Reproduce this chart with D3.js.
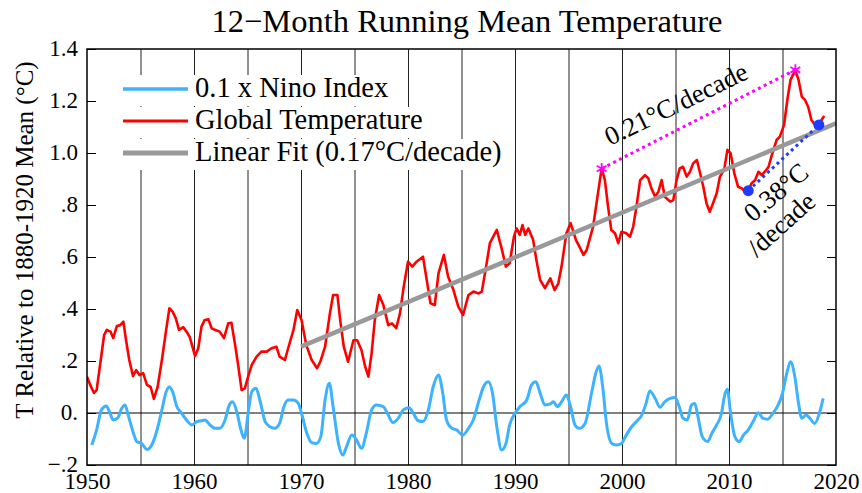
<!DOCTYPE html>
<html><head><meta charset="utf-8">
<script src="https://cdn.jsdelivr.net/npm/d3@7"></script>
<style>
body{margin:0;background:#fff}
svg{display:block}
</style>
</head><body>
<svg id="c" width="862" height="493"></svg>
<script>
// ---------------- data ----------------
const titleText = "12\u2212Month Running Mean Temperature";
const yLabelText = "T Relative to 1880-1920 Mean (\u00B0C)";
const xTickValues = [1950,1960,1970,1980,1990,2000,2010,2020];
const xTickLabels = ["1950","1960","1970","1980","1990","2000","2010","2020"];
const gridYears = [1955,1960,1965,1970,1975,1980,1985,1990,1995,2000,2005,2010,2015];
const yTickValues = [1.4,1.2,1.0,0.8,0.6,0.4,0.2,0,-0.2];
const yTickLabels = ["1.4","1.2","1.0",".8",".6",".4",".2","0.","\u2212.2"];

const tempYears = [1950.0,1950.3,1950.65,1950.9,1951.2,1951.6,1951.85,1952.2,1952.45,1952.8,1953.1,1953.4,1953.65,1953.95,1954.3,1954.6,1954.9,1955.25,1955.6,1955.95,1956.25,1956.6,1957.0,1957.4,1957.7,1958.0,1958.3,1958.6,1959.0,1959.3,1959.6,1960.1,1960.4,1960.7,1961.0,1961.35,1961.65,1961.95,1962.4,1962.8,1963.2,1963.5,1963.85,1964.15,1964.45,1964.75,1965.1,1965.4,1965.85,1966.3,1966.8,1967.25,1967.7,1968.0,1968.5,1968.8,1969.3,1969.65,1970.05,1970.5,1971.0,1971.5,1971.8,1972.25,1972.7,1973.0,1973.4,1973.7,1974.0,1974.4,1974.9,1975.25,1975.65,1976.0,1976.3,1976.6,1976.9,1977.3,1977.7,1978.15,1978.5,1978.9,1979.25,1979.6,1980.0,1980.4,1980.8,1981.4,1981.75,1982.1,1982.5,1982.85,1983.35,1983.75,1984.25,1984.7,1985.15,1985.65,1986.1,1986.6,1986.9,1987.3,1987.65,1988.3,1988.75,1989.15,1989.5,1989.9,1990.15,1990.45,1990.7,1990.95,1991.25,1991.7,1992.0,1992.35,1992.8,1993.3,1993.7,1994.05,1994.35,1994.8,1995.2,1995.7,1996.1,1996.4,1996.7,1997.3,1997.8,1998.1,1998.4,1998.7,1999.0,1999.35,1999.65,1999.95,2000.4,2000.75,2001.05,2001.35,2001.7,2002.15,2002.45,2002.75,2003.1,2003.4,2003.7,2004.0,2004.5,2004.8,2005.1,2005.4,2005.7,2006.05,2006.35,2006.65,2007.0,2007.3,2007.6,2007.9,2008.2,2008.5,2008.85,2009.15,2009.55,2009.85,2010.15,2010.5,2010.85,2011.2,2011.5,2011.8,2012.1,2012.45,2012.75,2013.05,2013.35,2013.7,2014.0,2014.45,2014.75,2015.15,2015.45,2015.75,2016.2,2016.5,2016.8,2017.1,2017.4,2017.7,2018.05,2018.35,2018.65,2018.9];
const tempValues = [0.14,0.108,0.077,0.088,0.178,0.30,0.32,0.313,0.288,0.335,0.338,0.351,0.28,0.204,0.142,0.165,0.146,0.153,0.108,0.10,0.054,0.10,0.204,0.32,0.403,0.39,0.364,0.32,0.33,0.313,0.293,0.219,0.249,0.332,0.358,0.36,0.326,0.32,0.313,0.288,0.345,0.347,0.26,0.178,0.088,0.095,0.146,0.185,0.217,0.236,0.236,0.249,0.255,0.217,0.204,0.249,0.32,0.396,0.358,0.26,0.204,0.172,0.197,0.255,0.383,0.454,0.454,0.345,0.255,0.197,0.28,0.28,0.242,0.178,0.14,0.23,0.358,0.454,0.415,0.338,0.345,0.326,0.383,0.486,0.582,0.563,0.582,0.601,0.512,0.422,0.415,0.537,0.608,0.524,0.473,0.409,0.377,0.454,0.467,0.46,0.467,0.563,0.653,0.704,0.633,0.563,0.576,0.678,0.71,0.685,0.723,0.685,0.71,0.665,0.588,0.512,0.48,0.518,0.473,0.499,0.563,0.691,0.73,0.665,0.633,0.608,0.627,0.717,0.858,0.941,0.896,0.793,0.704,0.691,0.653,0.697,0.691,0.678,0.717,0.793,0.896,0.915,0.903,0.864,0.832,0.851,0.896,0.832,0.813,0.819,0.896,0.941,0.947,0.909,0.928,0.96,0.973,0.922,0.87,0.806,0.774,0.806,0.845,0.909,0.935,1.012,0.999,0.922,0.87,0.864,0.851,0.855,0.883,0.896,0.928,0.915,0.928,0.947,0.992,1.05,1.063,1.108,1.204,1.281,1.319,1.281,1.217,1.204,1.178,1.127,1.108,1.108,1.127,1.142];

const ninoYears = [1950.45,1950.9,1951.35,1951.8,1952.15,1952.45,1952.85,1953.25,1953.55,1953.85,1954.3,1954.65,1955.1,1955.6,1956.05,1956.5,1957.0,1957.4,1957.7,1958.0,1958.4,1958.85,1959.3,1959.8,1960.25,1960.7,1961.0,1961.5,1961.95,1962.4,1962.9,1963.3,1963.6,1964.0,1964.35,1964.7,1965.1,1965.4,1965.8,1966.15,1966.65,1967.1,1967.55,1968.0,1968.4,1968.8,1969.3,1969.75,1970.05,1970.5,1971.0,1971.45,1971.85,1972.25,1972.65,1973.0,1973.5,1973.9,1974.25,1974.75,1975.2,1975.65,1976.1,1976.6,1977.05,1977.7,1978.15,1978.6,1979.1,1979.55,1980.1,1980.5,1980.95,1981.4,1981.9,1982.35,1982.85,1983.25,1983.6,1984.1,1984.55,1985.1,1985.65,1986.1,1986.65,1987.05,1987.5,1987.9,1988.3,1988.75,1989.15,1989.5,1990.0,1990.45,1991.1,1991.55,1991.95,1992.35,1992.8,1993.3,1993.6,1993.95,1994.35,1994.8,1995.2,1995.6,1996.0,1996.55,1997.15,1997.55,1997.85,1998.2,1998.55,1999.05,1999.5,1999.95,2000.4,2000.9,2001.35,2001.85,2002.25,2002.6,2003.1,2003.55,2004.0,2004.5,2004.95,2005.35,2005.7,2006.1,2006.5,2006.8,2007.1,2007.5,2008.0,2008.4,2008.85,2009.3,2009.6,2009.85,2010.15,2010.55,2010.95,2011.35,2011.8,2012.25,2012.75,2013.15,2013.6,2014.1,2014.6,2015.0,2015.4,2015.75,2016.15,2016.5,2016.8,2017.2,2017.55,2018.0,2018.45,2018.8];
const ninoValues = [-0.123,-0.065,0.012,0.027,-0.001,-0.027,-0.02,0.018,0.031,-0.008,-0.072,-0.11,-0.117,-0.14,-0.123,-0.072,0.012,0.082,0.10,0.082,0.024,-0.001,-0.027,-0.046,-0.033,-0.03,-0.027,-0.046,-0.059,-0.059,-0.027,0.031,0.043,0.005,-0.059,-0.097,0.012,0.082,0.095,0.05,-0.033,-0.053,-0.059,-0.04,0.024,0.05,0.05,0.037,-0.001,-0.072,-0.114,-0.117,-0.091,0.05,0.114,0.024,-0.117,-0.162,-0.13,-0.085,-0.104,-0.136,-0.078,0.012,0.031,0.024,-0.008,-0.037,-0.02,0.012,0.02,-0.001,-0.03,-0.033,0.012,0.10,0.146,0.076,-0.027,-0.059,-0.065,-0.085,-0.059,-0.027,0.05,0.10,0.12,0.076,-0.053,-0.142,-0.117,-0.046,-0.001,0.024,0.05,0.108,0.12,0.076,0.031,0.035,0.043,0.024,0.043,0.069,0.024,-0.046,-0.059,-0.04,0.076,0.153,0.181,0.10,-0.04,-0.117,-0.123,-0.117,-0.085,-0.053,-0.033,-0.008,0.037,0.085,0.056,0.022,0.043,0.056,0.06,0.024,-0.02,-0.027,0.031,0.037,-0.014,-0.091,-0.11,-0.078,-0.046,-0.001,0.069,0.091,-0.001,-0.091,-0.11,-0.085,-0.065,-0.033,0.001,-0.02,-0.024,-0.001,0.031,0.076,0.153,0.197,0.14,0.037,-0.02,-0.008,-0.02,-0.04,-0.001,0.056];

const fitYears = [1970, 2020];
const fitValues = [0.255, 1.114];

const peakYears = [1998.1, 2016.2];
const peakValues = [0.94, 1.32];
const dipYears = [2011.8, 2018.4];
const dipValues = [0.855, 1.108];

const legendLabels = ["0.1 x Nino Index","Global Temperature","Linear Fit (0.17\u00B0C/decade)"];
const legendColors = ["#3db2ff","#ff0000","#999999"];
const legendWidths = [3.5,3,5];

const noteA = "0.21\u00B0C/decade";
const noteB1 = "0.38\u00B0C";
const noteB2 = "/decade";

// ---------------- chart ----------------
const FONT = "Liberation Serif";
const svg = d3.select("#c");
const L=87, R=836, T=49, B=465;
const x = d3.scaleLinear().domain([1950,2020]).range([L,R]);
const y = d3.scaleLinear().domain([-0.2,1.4]).range([B,T]);

svg.append("defs").append("clipPath").attr("id","clip")
  .append("rect").attr("x",L).attr("y",T).attr("width",R-L).attr("height",B-T);

// vertical grid lines
const grid = svg.append("g").attr("transform",`translate(0,${B})`)
  .call(d3.axisBottom(x).tickValues(gridYears).tickSize(-(B-T)).tickFormat(""));
grid.select(".domain").remove();
grid.selectAll("line").attr("stroke","#222").attr("stroke-width",1);

// zero line
svg.append("line").attr("x1",L).attr("x2",R).attr("y1",y(0)).attr("y2",y(0))
  .attr("stroke","#000").attr("stroke-width",1);

// left axis
const ya = svg.append("g").attr("transform",`translate(${L},0)`)
  .call(d3.axisLeft(y).tickValues(yTickValues).tickSize(-9).tickPadding(9)
        .tickFormat((d,i)=>yTickLabels[i]));
ya.attr("font-family",FONT);
ya.select(".domain").remove();
ya.selectAll("line").attr("stroke","#000");
ya.selectAll("text").attr("font-family",FONT).attr("font-size",23).attr("dy","0.3em").attr("fill","#000");

// right axis
const yr = svg.append("g").attr("transform",`translate(${R},0)`)
  .call(d3.axisRight(y).tickValues(yTickValues).tickSize(-9).tickFormat(""));
yr.select(".domain").remove();
yr.selectAll("line").attr("stroke","#000");

// x axis labels
const xa = svg.append("g").attr("transform",`translate(0,${B})`)
  .call(d3.axisBottom(x).tickValues(xTickValues).tickSize(0).tickPadding(8)
        .tickFormat((d,i)=>xTickLabels[i]));
xa.attr("font-family",FONT);
xa.select(".domain").remove();
xa.selectAll("text").attr("font-family",FONT).attr("font-size",23).attr("fill","#000");

// series
const plot = svg.append("g").attr("clip-path","url(#clip)");
const nino = ninoYears.map((d,i)=>[d,ninoValues[i]]);
const temp = tempYears.map((d,i)=>[d,tempValues[i]]);
const fit = fitYears.map((d,i)=>[d,fitValues[i]]);
const lin = d3.line().x(d=>x(d[0])).y(d=>y(d[1]));
const smooth = d3.line().x(d=>x(d[0])).y(d=>y(d[1])).curve(d3.curveMonotoneX);

plot.append("path").attr("fill","none").attr("stroke","#3db2ff")
  .attr("stroke-width",3).attr("stroke-linejoin","round").attr("d", smooth(nino));
plot.append("path").attr("fill","none").attr("stroke","#ff0000")
  .attr("stroke-width",2.6).attr("stroke-linejoin","round").attr("d", lin(temp));
plot.append("path").attr("fill","none").attr("stroke","#999999")
  .attr("stroke-width",4.5).attr("d", lin(fit));

// trend annotations
const peaks = peakYears.map((d,i)=>[d,peakValues[i]]);
const dips = dipYears.map((d,i)=>[d,dipValues[i]]);
svg.append("path").attr("fill","none").attr("stroke","#ff00ff").attr("stroke-width",3)
  .attr("stroke-dasharray","3,3.5").attr("d", lin(peaks));
svg.append("path").attr("fill","none").attr("stroke","#1e3cff").attr("stroke-width",3)
  .attr("stroke-dasharray","3,3.5").attr("d", lin(dips));
svg.selectAll(".star").data(peaks).join("path")
  .attr("transform",d=>`translate(${x(d[0])},${y(d[1])})`)
  .attr("d", d3.symbol().type(d3.symbolAsterisk).size(90))
  .attr("fill","none").attr("stroke","#ff00ff").attr("stroke-width",1.8);
svg.selectAll(".dot").data(dips).join("circle")
  .attr("cx",d=>x(d[0])).attr("cy",d=>y(d[1])).attr("r",5.5).attr("fill","#1e3cff");

svg.append("text").attr("transform","translate(680,112) rotate(-26)")
  .attr("font-family",FONT).attr("text-anchor","middle").attr("font-size",26.5).text(noteA);
svg.append("text").attr("transform","translate(753,223) rotate(-40)")
  .attr("font-family",FONT).attr("font-size",26.5).text(noteB1);
svg.append("text").attr("transform","translate(757,258) rotate(-42)")
  .attr("font-family",FONT).attr("font-size",26.5).text(noteB2);

// legend
const leg = svg.append("g");
legendLabels.forEach((lab,i)=>{
  const by = 97 + i*32;
  const g = leg.append("g");
  const bg = g.append("rect").attr("fill","#fff");
  g.append("line").attr("x1",123).attr("x2",188).attr("y1",by-8).attr("y2",by-8)
    .attr("stroke",legendColors[i]).attr("stroke-width",legendWidths[i]);
  const t = g.append("text").attr("x",195).attr("y",by).attr("font-family",FONT)
    .attr("font-size",28.5).text(lab);
  const w = t.node().getComputedTextLength();
  bg.attr("x",115).attr("y",by-22).attr("width",195+w+3-115).attr("height",31);
});

// frame
svg.append("rect").attr("x",L).attr("y",T).attr("width",R-L).attr("height",B-T)
  .attr("fill","none").attr("stroke","#000").attr("stroke-width",1.5);

// title
svg.append("text").attr("x",467).attr("y",32).attr("text-anchor","middle")
  .attr("font-family",FONT).attr("font-size",32.5).text(titleText);

// y label
svg.append("text").attr("transform","translate(33,240) rotate(-90)")
  .attr("font-family",FONT).attr("text-anchor","middle").attr("font-size",25).text(yLabelText);
</script>
</body></html>
